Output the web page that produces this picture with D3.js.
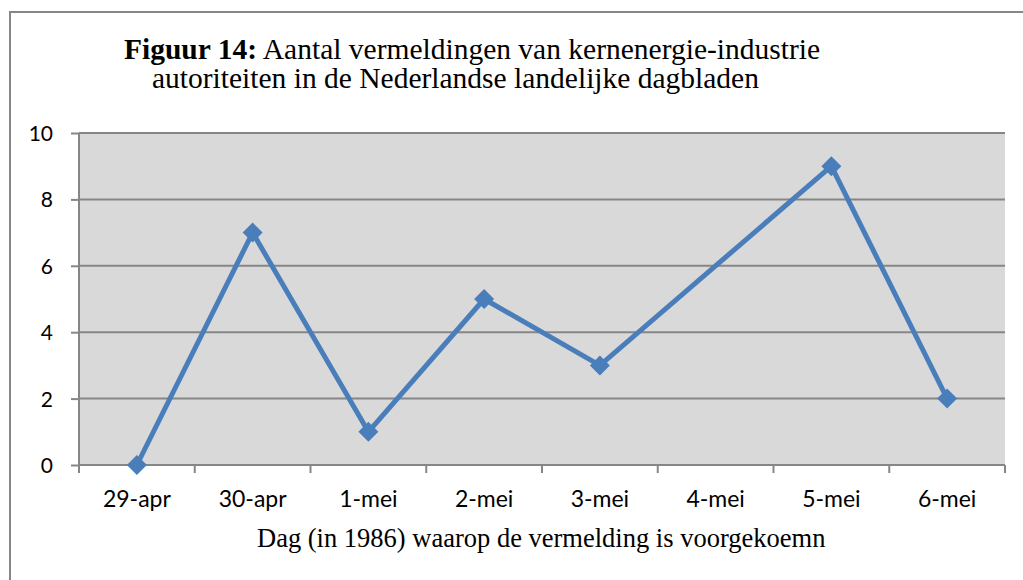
<!DOCTYPE html>
<html>
<head>
<meta charset="utf-8">
<script src="https://cdn.jsdelivr.net/npm/d3@7"></script>
<style>
  body { margin: 0; background: #fff; }
  svg { display: block; }
</style>
</head>
<body>
<svg id="chart" width="1023" height="580"></svg>
<script>
/* ------------------ DATA ------------------ */
let days = ['29-apr', '30-apr', '1-mei', '2-mei', '3-mei', '4-mei', '5-mei', '6-mei']
let counts = [0, 7, 1, 5, 3, null, 9, 2]   // 4-mei: geen waarde, lijn loopt door
let yTicks = [0, 2, 4, 6, 8, 10]
let titleBold = 'Figuur 14:'
let titleLine1 = ' Aantal vermeldingen van kernenergie-industrie'
let titleLine2 = 'autoriteiten in de Nederlandse landelijke dagbladen'
let xTitle = 'Dag (in 1986) waarop de vermelding is voorgekoemn'

/* ------------------ CHART ------------------ */
let svg = d3.select('#chart')
let grey = '#868686'
let blue = '#4a7ebb'
let serif = '"Liberation Serif", "Times New Roman", serif'
let sans = 'Lato, sans-serif'
let plot = { left: 79, top: 133, right: 1005, bottom: 465 }

// outer frame (loopt buiten beeld door)
svg.append('rect')
    .attr('x', 10).attr('y', 12)
    .attr('width', 1100).attr('height', 700)
    .attr('fill', 'none').attr('stroke', grey).attr('stroke-width', 2)

let x = d3.scaleBand().domain(days).range([plot.left, plot.right]).padding(0)
let y = d3.scaleLinear().domain([0, 10]).range([plot.bottom, plot.top])

svg.append('rect')
    .attr('x', plot.left).attr('y', plot.top)
    .attr('width', plot.right - plot.left).attr('height', plot.bottom - plot.top)
    .attr('fill', '#d9d9d9')

// gridlines + y axis
let yAxis = svg.append('g')
    .attr('transform', 'translate(' + plot.left + ',0)')
    .call(d3.axisLeft(y).tickValues(yTicks).tickSize(8).tickPadding(18))
yAxis.select('.domain').remove()
yAxis.selectAll('line').attr('stroke', grey).attr('stroke-width', 2)
yAxis.selectAll('text')
    .attr('font-family', sans).attr('font-size', 21).attr('fill', '#000')
    .attr('dy', '0.36em')

svg.append('g').selectAll('line')
    .data(yTicks)
    .enter().append('line')
    .attr('x1', plot.left).attr('x2', plot.right)
    .attr('y1', d => y(d)).attr('y2', d => y(d))
    .attr('stroke', grey).attr('stroke-width', 2)

svg.append('line')
    .attr('x1', plot.left).attr('x2', plot.left)
    .attr('y1', plot.top).attr('y2', plot.bottom)
    .attr('stroke', grey).attr('stroke-width', 2)

// x ticks on category boundaries
let bounds = days.map(d => x(d)).concat([plot.right])
svg.append('g').selectAll('line')
    .data(bounds)
    .enter().append('line')
    .attr('x1', d => d).attr('x2', d => d)
    .attr('y1', plot.bottom).attr('y2', plot.bottom + 8)
    .attr('stroke', grey).attr('stroke-width', 2)

svg.append('g').selectAll('text')
    .data(days)
    .enter().append('text')
    .attr('x', d => x(d) + x.bandwidth() / 2)
    .attr('y', 507)
    .attr('text-anchor', 'middle')
    .attr('font-family', sans).attr('font-size', 23)
    .text(d => d)

// line + markers
let points = days.map((d, i) => ({ day: d, value: counts[i] })).filter(p => p.value != null)
let line = d3.line()
    .x(p => x(p.day) + x.bandwidth() / 2)
    .y(p => y(p.value))

svg.append('path')
    .datum(points)
    .attr('d', line)
    .attr('fill', 'none').attr('stroke', blue)
    .attr('stroke-width', 5).attr('stroke-linejoin', 'round')

svg.append('g').selectAll('path')
    .data(points)
    .enter().append('path')
    .attr('d', d3.symbol().type(d3.symbolSquare).size(200))
    .attr('transform', p => 'translate(' + (x(p.day) + x.bandwidth() / 2) + ',' + y(p.value) + ') rotate(45)')
    .attr('fill', blue)

// titles
let t1 = svg.append('text')
    .attr('x', 124).attr('y', 59)
    .attr('font-family', serif).attr('font-size', 29.5)
t1.append('tspan').attr('font-weight', 'bold').text(titleBold)
t1.append('tspan').text(titleLine1)

svg.append('text')
    .attr('x', 152).attr('y', 88)
    .attr('font-family', serif).attr('font-size', 29.5)
    .text(titleLine2)

svg.append('text')
    .attr('x', 257).attr('y', 547)
    .attr('font-family', serif).attr('font-size', 26.5)
    .text(xTitle)
</script>
</body>
</html>
